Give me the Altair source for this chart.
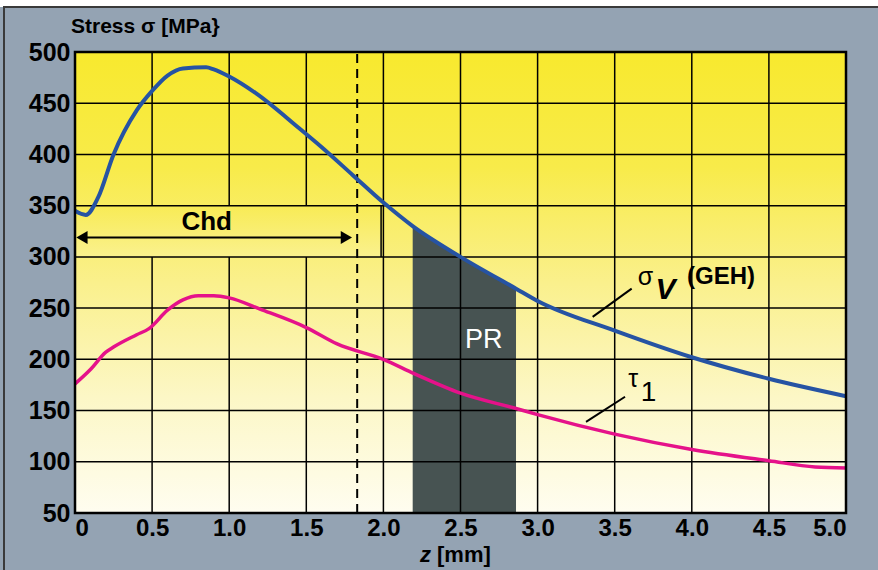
import altair as alt
import pandas as pd

# ---- data ----
z_sv = [0, 0.07, 0.15, 0.25, 0.4, 0.5, 0.6, 0.7, 0.85, 0.9, 1.0, 1.17, 1.45, 1.6, 1.8, 2.0, 2.19, 2.5, 2.86, 3.0, 3.5, 4.0, 4.5, 5.0]
sigma_v = [345, 341, 358, 400, 443, 462, 477, 484, 485, 483, 476, 460, 426, 407, 380, 353, 330, 300, 269, 257, 228, 202, 181, 164]

z_tau = [0, 0.1, 0.2, 0.25, 0.4, 0.48, 0.6, 0.7, 0.8, 0.9, 1.0, 1.2, 1.5, 1.7, 2.0, 2.2, 2.5, 2.86, 3.0, 3.5, 4.0, 4.5, 4.8, 5.0]
tau_1 = [176, 190, 207, 212, 224, 230, 248, 258, 262, 262, 260, 249, 231, 215, 200, 186, 167, 152, 146, 127, 112, 101, 95, 94]

pr_start, pr_end = 2.19, 2.86
chd_depth = 1.83
x_ticks = [0, 0.5, 1.0, 1.5, 2.0, 2.5, 3.0, 3.5, 4.0, 4.5, 5.0]
y_ticks = [50, 100, 150, 200, 250, 300, 350, 400, 450, 500]

W, H = 771, 461
FONT = "Liberation Sans, Arial, sans-serif"
NARROW = "'Liberation Sans Narrow', 'Arial Narrow', 'Liberation Sans', sans-serif"

xs = alt.Scale(domain=[0, 5], nice=False)
ys = alt.Scale(domain=[50, 500], nice=False)

sv = pd.DataFrame({"z": z_sv, "s": sigma_v})
tau = pd.DataFrame({"z": z_tau, "s": tau_1})
pr = sv[(sv.z >= pr_start) & (sv.z <= pr_end)].copy()
one = pd.DataFrame({"a": [0]})

X = lambda f="z": alt.X(f, type="quantitative", scale=xs,
                        axis=alt.Axis(values=x_ticks, title=None, grid=False, ticks=False, domain=False,
                                      labelFont=NARROW, labelFontSize=24, labelFontWeight="bold",
                                      labelColor="black", labelPadding=3,
                                      labelExpr="datum.value == 0 ? '0' : format(datum.value, '.1f')"))
Y = lambda f="s": alt.Y(f, type="quantitative", scale=ys,
                        axis=alt.Axis(values=y_ticks, title=None, grid=False, ticks=False, domain=False,
                                      labelFont=FONT, labelFontSize=25, labelFontWeight="bold",
                                      labelColor="black", labelPadding=5))

# frame decorations
white_strip = alt.Chart(one).mark_rect(color="white").encode(
    x=alt.value(-80), x2=alt.value(810), y=alt.value(-60), y2=alt.value(-45))
top_line = alt.Chart(one).mark_rule(color="#3a3a3a", strokeWidth=2).encode(
    x=alt.value(-72), x2=alt.value(810), y=alt.value(-45))
left_line = alt.Chart(one).mark_rule(color="#3a3a3a", strokeWidth=2).encode(
    x=alt.value(-71), y=alt.value(-45), y2=alt.value(530))

bg = alt.Chart(one).mark_rect(
    fill=alt.Gradient(gradient="linear", x1=0, x2=0, y1=0, y2=1,
                      stops=[alt.GradientStop(color="#f8e92e", offset=0),
                             alt.GradientStop(color="#f8eb4a", offset=0.25),
                             alt.GradientStop(color="#faf08c", offset=0.5),
                             alt.GradientStop(color="#fcf7c6", offset=0.75),
                             alt.GradientStop(color="#fffdf0", offset=1)])
).encode(x=alt.datum(0, scale=xs), x2=alt.datum(5), y=alt.datum(500, scale=ys), y2=alt.datum(50))

pr_area = alt.Chart(pr).mark_area(color="#475352", interpolate="linear").encode(
    x=X(), y=Y(), y2=alt.datum(50))

vgrid = alt.Chart(pd.DataFrame({"g": x_ticks[1:-1]})).mark_rule(color="black", strokeWidth=1.5).encode(
    x=alt.X("g:Q", scale=xs), y=alt.datum(50, scale=ys), y2=alt.datum(500))
hgrid = alt.Chart(pd.DataFrame({"g": y_ticks[1:-1]})).mark_rule(color="black", strokeWidth=1.5).encode(
    y=alt.Y("g:Q", scale=ys), x=alt.datum(0, scale=xs), x2=alt.datum(5))

chd_box = alt.Chart(one).mark_rect(
    fill=alt.Gradient(gradient="linear", x1=0, x2=0, y1=0, y2=1,
                      stops=[alt.GradientStop(color="#f8eb55", offset=0),
                             alt.GradientStop(color="#faf18e", offset=1)])
).encode(x=alt.datum(0, scale=xs), x2=alt.datum(1.985), y=alt.datum(350, scale=ys), y2=alt.datum(300))
chd_edge = alt.Chart(one).mark_rule(color="black", strokeWidth=1.5).encode(
    x=alt.datum(1.985, scale=xs), y=alt.datum(300, scale=ys), y2=alt.datum(350))

dashed = alt.Chart(one).mark_rule(color="black", strokeWidth=2, strokeDash=[9, 6]).encode(
    x=alt.datum(chd_depth, scale=xs), y=alt.datum(50, scale=ys), y2=alt.datum(500))

blue = alt.Chart(sv).mark_line(color="#2653a3", strokeWidth=4, interpolate="monotone").encode(x=X(), y=Y())
pink = alt.Chart(tau).mark_line(color="#e5128a", strokeWidth=3.5, interpolate="monotone").encode(x=X(), y=Y())

arrow_y = 319
arrow = alt.Chart(one).mark_rule(color="black", strokeWidth=2).encode(
    x=alt.datum(0.06, scale=xs), x2=alt.datum(1.74), y=alt.datum(arrow_y, scale=ys))
heads = alt.Chart(pd.DataFrame({"z": [0.045, 1.76], "shape": ["triangle-left", "triangle-right"]})).mark_point(
    filled=True, color="black", size=170, opacity=1).encode(
    x=alt.X("z:Q", scale=xs), y=alt.datum(arrow_y, scale=ys),
    shape=alt.Shape("shape:N", scale=None, legend=None))

def txt(z, s, t, size, weight="normal", style="normal", color="black", align="center", font=FONT):
    return alt.Chart(one).mark_text(text=t, fontSize=size, fontWeight=weight, fontStyle=style,
                                    color=color, align=align, baseline="middle", font=font).encode(
        x=alt.datum(z, scale=xs), y=alt.datum(s, scale=ys))

chd_txt = txt(0.854, 334, "Chd", 26, "bold")
pr_txt = txt(2.65, 219, "PR", 27, color="white")
sig_txt = txt(3.70, 280, "σ", 25)
v_txt = txt(3.83, 268, "V", 30, "bold", "italic")
geh_txt = txt(4.19, 280, "(GEH)", 24, "bold")
tau_txt = txt(3.62, 181, "τ", 25)
one_txt = txt(3.72, 167, "1", 28)

lead = lambda z1, s1, z2, s2: alt.Chart(one).mark_rule(color="black", strokeWidth=2).encode(
    x=alt.datum(z1, scale=xs), y=alt.datum(s1, scale=ys), x2=alt.datum(z2), y2=alt.datum(s2))
lead_sv = lead(3.357, 241.5, 3.610, 269)
lead_tau = lead(3.314, 139, 3.567, 163.5)

border = alt.Chart(one).mark_rect(fillOpacity=0, stroke="black", strokeWidth=2.5).encode(
    x=alt.datum(0, scale=xs), x2=alt.datum(5), y=alt.datum(500, scale=ys), y2=alt.datum(50))

title = alt.Chart(one).mark_text(text="Stress σ [MPa}", fontSize=21, fontWeight="bold", font=FONT,
                                 align="left", baseline="alphabetic").encode(x=alt.value(-4), y=alt.value(-19))
z_t = alt.Chart(one).mark_text(text="z", fontSize=22, fontWeight="bold", fontStyle="italic", font=NARROW,
                               align="right", baseline="alphabetic").encode(x=alt.value(356), y=alt.value(510))
mm_t = alt.Chart(one).mark_text(text="[mm]", fontSize=22, fontWeight="bold", font=NARROW,
                                align="left", baseline="alphabetic").encode(x=alt.value(362), y=alt.value(510))

axes_layer = alt.Chart(sv).mark_point(opacity=0).encode(x=X(), y=Y())

chart = alt.layer(
    white_strip, top_line, left_line, bg, pr_area, vgrid, chd_box, hgrid, chd_edge, dashed,
    blue, pink, arrow, heads, chd_txt, pr_txt, sig_txt, v_txt, geh_txt, tau_txt, one_txt,
    lead_sv, lead_tau, border, title, z_t, mm_t, axes_layer
).properties(
    width=W, height=H, background="#94a3b3",
    autosize=alt.AutoSizeParams(type="none"),
    padding={"left": 75, "top": 52, "right": 32, "bottom": 57}
).configure_view(stroke=None)

chart.save("out.html", embed_options={"renderer": "svg", "actions": False})
